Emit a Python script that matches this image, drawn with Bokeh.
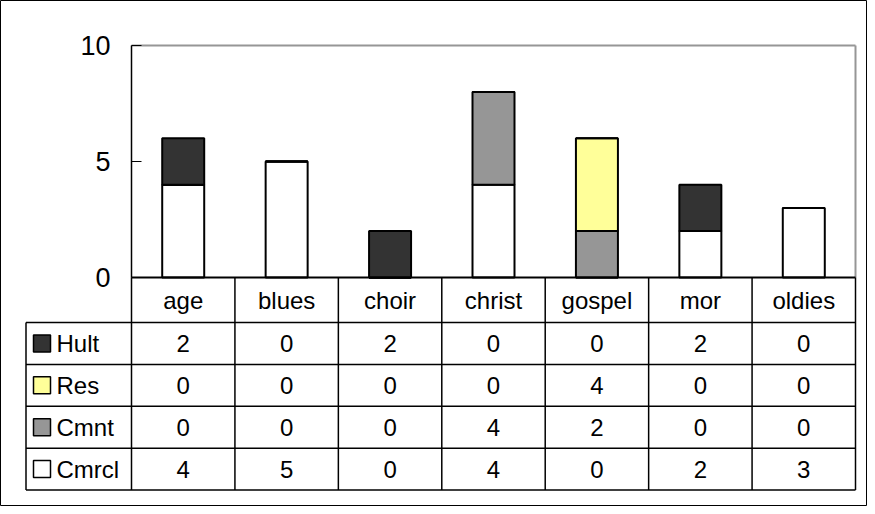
import numpy as np
from bokeh.plotting import figure
from bokeh.models import Range1d, LinearAxis, FixedTicker, ColumnDataSource
from bokeh.core.properties import value
from bokeh.embed import file_html
from bokeh.resources import INLINE

# ---------------- data ----------------
categories = ["age", "blues", "choir", "christ", "gospel", "mor", "oldies"]
hult = [2, 0, 2, 0, 0, 2, 0]
res = [0, 0, 0, 0, 4, 0, 0]
cmnt = [0, 0, 0, 4, 2, 0, 0]
cmrcl = [4, 5, 0, 4, 0, 2, 3]
series_names = ["Hult", "Res", "Cmnt", "Cmrcl"]  # table order, top to bottom
y_ticks = [0, 5, 10]
y_max = 10

# ---------------- styles / layout ----------------
series_values = {"Hult": hult, "Res": res, "Cmnt": cmnt, "Cmrcl": cmrcl}
series_colors = {"Hult": "#333333", "Res": "#FFFF99", "Cmnt": "#969696", "Cmrcl": "#FFFFFF"}
FONT_NAME = "Liberation Sans"
FONT = value(FONT_NAME)

W, H = 867, 506
OX, OY = 0, 0                      # picture origin of the figure
plot_left, plot_right = 131, 855   # picture pixels
plot_top, plot_bottom = 45, 277
header_bottom = 322
table_bottom = 489.5
table_left = 25.5
bar_px = 42

n = len(categories)
cw = (plot_right - plot_left) / n
vp = (plot_bottom - plot_top) / y_max
rh = (table_bottom - header_bottom) / len(series_names)

x_range = Range1d((OX - plot_left) / cw, (OX + W - plot_left) / cw)
y_range = Range1d(-(OY + H - plot_bottom) / vp, (plot_bottom - OY) / vp)
t_range = Range1d(-(OY + H - table_bottom) / rh, (table_bottom - OY) / rh)
t_header_top = (table_bottom - plot_bottom) / rh
t_header_mid = (len(series_names) + t_header_top) / 2
u_left = (table_left - plot_left) / cw

p = figure(width=W, height=H, x_range=x_range, y_range=y_range,
           x_axis_location=None, y_axis_location=None,
           toolbar_location=None, output_backend="svg", min_border=0,
           outline_line_color="black", outline_line_width=1,
           background_fill_color="white", border_fill_color="white")
p.extra_y_ranges = {"table": t_range}
p.grid.visible = False

# ---------------- bars ----------------
xs = np.arange(n) + 0.5
src = ColumnDataSource(dict(x=xs, **series_values))
stack_order = ["Cmrcl", "Cmnt", "Res", "Hult"]
p.vbar_stack(stack_order, x="x", width=bar_px / cw, source=src,
             fill_color=[series_colors[s] for s in stack_order],
             line_color="black", line_width=2)

# plot area frame: grey top/right, black bottom
p.segment(x0=[0, n], y0=[y_max, 0], x1=[n, n], y1=[y_max, y_max],
          line_color="#969696", line_width=2)
p.segment(x0=[0], y0=[0], x1=[n], y1=[0], line_color="black", line_width=2)

# y axis
ax = LinearAxis(fixed_location=0, ticker=FixedTicker(ticks=y_ticks), bounds=(0, y_max),
                major_tick_in=10, major_tick_out=0, minor_tick_in=0, minor_tick_out=0,
                axis_line_color="black", axis_line_width=1.5,
                major_tick_line_color="black", major_tick_line_width=1,
                major_label_text_font=FONT_NAME, major_label_text_font_size="27px",
                major_label_text_color="black", major_label_standoff=21)
p.add_layout(ax, "left")

# ---------------- data table ----------------
nrows = len(series_names)
# horizontal lines
p.segment(x0=[u_left] * (nrows + 1), y0=list(range(nrows + 1)),
          x1=[n] * (nrows + 1), y1=list(range(nrows + 1)),
          line_color="black", line_width=1.5, y_range_name="table")
# vertical lines
p.segment(x0=list(range(n + 1)), y0=[0] * (n + 1), x1=list(range(n + 1)),
          y1=[t_header_top] * (n + 1), line_color="black", line_width=1.5,
          y_range_name="table")
p.segment(x0=[u_left], y0=[0], x1=[u_left], y1=[nrows],
          line_color="black", line_width=1.5, y_range_name="table")

# category header
p.text(x=xs, y=[t_header_mid] * n, text=categories, text_font=FONT,
       text_font_size="24px", text_align="center", text_baseline="middle",
       text_color="black", y_range_name="table")

# cell values
cx, cy, ct = [], [], []
for r, s in enumerate(series_names):
    row_t = nrows - 1 - r + 0.5
    for i, v in enumerate(series_values[s]):
        cx.append(xs[i]); cy.append(row_t); ct.append(str(v))
p.text(x=cx, y=cy, text=ct, text_font=FONT, text_font_size="24px",
       text_align="center", text_baseline="middle", text_color="black",
       y_range_name="table")

# legend keys + labels
row_ts = [nrows - 1 - r + 0.5 for r in range(nrows)]
key_u = u_left + (41.5 - table_left) / cw
lab_u = u_left + (56 - table_left) / cw
p.rect(x=[key_u] * nrows, y=row_ts, width=17, height=17,
       width_units="screen", height_units="screen",
       fill_color=[series_colors[s] for s in series_names],
       line_color="black", line_width=1.5, y_range_name="table")
p.text(x=[lab_u] * nrows, y=row_ts, text=series_names, text_font=FONT,
       text_font_size="24px", text_align="left", text_baseline="middle",
       text_color="black", y_range_name="table")

open("out.html", "w").write(file_html(p, INLINE))
